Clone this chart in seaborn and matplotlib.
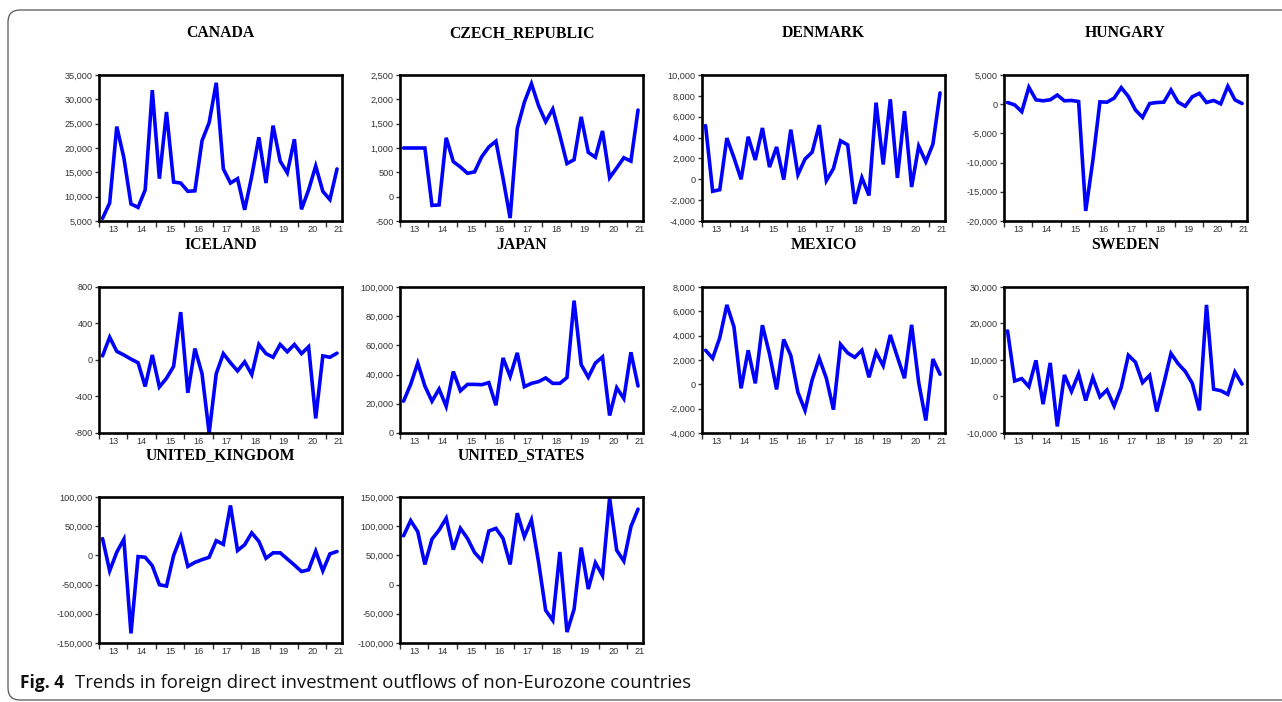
import numpy as np
import pandas as pd
import matplotlib
matplotlib.use("Agg")
import matplotlib.pyplot as plt
from matplotlib.patches import FancyBboxPatch
from matplotlib.transforms import IdentityTransform
from matplotlib.ticker import FixedLocator, FuncFormatter, NullFormatter
import seaborn as sns

# Quarterly FDI outflows, 2013Q1 - 2021Q2
start_year = 2013
n_quarters = 34

canada = [5550, 8700, 24400, 18000, 8500, 7800, 11400, 31900, 13700, 27400,
          13000, 12800, 11100, 11200, 21500, 25200, 33400, 15700, 12800, 13700,
          7300, 14200, 22200, 12800, 24600, 17300, 14900, 21800, 7400, 11400,
          16300, 11100, 9400, 15700]
czech_republic = [1000, 1000, 1000, 1000, -180, -170, 1210, 720, 610, 480,
                  510, 820, 1020, 1140, 380, -440, 1400, 1940, 2320, 1870,
                  1540, 1800, 1260, 680, 760, 1640, 910, 810, 1350, 390,
                  590, 800, 730, 1780]
denmark = [5150, -1150, -1000, 3950, 2070, 0, 4080, 1850, 4920, 1170,
           3100, -30, 4760, 450, 1940, 2600, 5200, -130, 1030, 3690,
           3300, -2360, 160, -1550, 7350, 1420, 7670, 130, 6540, -740,
           3170, 1680, 3370, 8280]
hungary = [290, -120, -1280, 2900, 750, 580, 750, 1570, 580, 640,
           460, -18270, -9690, 400, 350, 1040, 2840, 1330, -990, -2260,
           120, 290, 350, 2440, 350, -350, 1280, 1860, 290, 640,
           60, 3070, 750, 120]
iceland = [45, 250, 95, 55, 10, -30, -290, 55, -295, -200,
           -70, 525, -360, 125, -150, -800, -150, 70, -30, -120,
           -20, -160, 170, 70, 30, 170, 90, 170, 70, 145,
           -640, 45, 30, 75]
japan = [21800, 33300, 47900, 32200, 21800, 30100, 18300, 42100, 28900, 33300,
         33300, 33100, 34500, 19000, 51400, 38700, 54900, 31700, 34000, 35200,
         37700, 34000, 34000, 38000, 90700, 46800, 38200, 47900, 52100, 12000,
         31000, 23600, 55300, 32200]
mexico = [2800, 2140, 3830, 6530, 4720, -330, 2800, 80, 4860, 2500,
          -420, 3690, 2360, -670, -2140, 360, 2140, 500, -2080, 3280,
          2580, 2220, 2800, 580, 2640, 1530, 4060, 2250, 500, 4890,
          140, -2970, 2080, 830]
sweden = [17960, 4260, 4900, 2700, 9900, -2100, 9200, -8200, 5900, 1400,
          6200, -1100, 5200, -100, 1800, -2600, 2500, 11300, 9400, 3800,
          5800, -4100, 3600, 11800, 9000, 6900, 3600, -3800, 25100, 2000,
          1600, 600, 6700, 3400]
united_kingdom = [28700, -26400, 5500, 27600, -133600, -2000, -3200, -17700, -50200, -52500,
                  -300, 31600, -18900, -11900, -7300, -3200, 25200, 18900, 85600, 8400,
                  18300, 38600, 24100, -4900, 4400, 4400, -6100, -16500, -27600, -24700,
                  7300, -26400, 2600, 6700]
united_states = [83600, 109600, 90600, 34500, 77800, 93400, 113600, 59900, 96300, 79000,
                 54800, 41500, 91700, 96300, 79000, 34500, 122300, 81900, 110800, 38600,
                 -44000, -61300, 55900, -81300, -42200, 63400, -7600, 37400, 15500, 148300,
                 58800, 40300, 99200, 129200]

countries = ["CANADA", "CZECH_REPUBLIC", "DENMARK", "HUNGARY",
             "ICELAND", "JAPAN", "MEXICO", "SWEDEN",
             "UNITED_KINGDOM", "UNITED_STATES"]
series = [canada, czech_republic, denmark, hungary, iceland, japan,
          mexico, sweden, united_kingdom, united_states]

# y-axis ranges (min, max, step) per panel
y_ranges = [(5000, 35000, 5000), (-500, 2500, 500), (-4000, 10000, 2000),
            (-20000, 5000, 5000), (-800, 800, 400), (0, 100000, 20000),
            (-4000, 8000, 2000), (-10000, 30000, 10000),
            (-150000, 100000, 50000), (-100000, 150000, 50000)]

year_labels = ["13", "14", "15", "16", "17", "18", "19", "20", "21"]

t = start_year + (np.arange(n_quarters) + 0.5) / 4.0
df = pd.DataFrame({"t": t})
for name, vals in zip(countries, series):
    df[name] = vals

sns.set_style("white")
plt.rcParams["font.family"] = ["Liberation Sans", "DejaVu Sans"]
plt.rcParams["axes.unicode_minus"] = False

W, H = 1282, 702
fig = plt.figure(figsize=(W / 100, H / 100), dpi=100)
fig.patch.set_facecolor("white")

col_left = [99, 400, 702, 1004]
row_top = [75, 287, 497]
ax_w, ax_h = 243, 146

xmin, xmax = float(start_year), 2021.55
years = np.arange(start_year, 2022)
label_pos = [min(y + 0.5, xmax - 0.12) for y in years]

for i, (name, (ylo, yhi, ystep)) in enumerate(zip(countries, y_ranges)):
    r, c = divmod(i, 4)
    left = col_left[c]
    top = row_top[r]
    ax = fig.add_axes([left / W, 1 - (top + ax_h) / H, ax_w / W, ax_h / H])
    sns.lineplot(data=df, x="t", y=name, ax=ax, color="#0000FF",
                 linewidth=2.6, solid_joinstyle="miter")
    ax.set_xlim(xmin, xmax)
    ax.set_ylim(ylo, yhi)
    ax.set_xlabel("")
    ax.set_ylabel("")
    ax.yaxis.set_major_locator(FixedLocator(np.arange(ylo, yhi + ystep / 2, ystep)))
    ax.yaxis.set_major_formatter(FuncFormatter(lambda v, p: f"{v:,.0f}"))
    ax.xaxis.set_major_locator(FixedLocator(years))
    ax.xaxis.set_major_formatter(NullFormatter())
    ax.xaxis.set_minor_locator(FixedLocator(label_pos))
    ax.xaxis.set_minor_formatter(FuncFormatter(lambda v, p: year_labels[p]))
    ax.tick_params(axis="y", which="major", direction="out", length=3, width=1,
                   color="#333333", labelsize=6.6, labelcolor="#333333", pad=1.5, left=True)
    ax.tick_params(axis="x", which="major", direction="out", length=4, width=1,
                   color="#333333", bottom=True)
    ax.tick_params(axis="x", which="minor", length=0, labelsize=6.6,
                   labelcolor="#333333", pad=3)
    for sp in ax.spines.values():
        sp.set_visible(True)
        sp.set_color("black")
        sp.set_linewidth(1.9)
    ax.grid(False)
    fig.text((left + ax_w / 2) / W, 1 - (top - 42) / H, name,
             ha="center", va="center", fontsize=11.3, fontweight="bold",
             family="Liberation Serif", color="black")

# page frame with a rounded corner
frame = FancyBboxPatch((8, 2), 1310, 690,
                       boxstyle="round,pad=0,rounding_size=12",
                       transform=IdentityTransform(), fill=False,
                       edgecolor="#555555", linewidth=0.9)
fig.add_artist(frame)

fig.text(20 / W, 1 - 683 / H, "Fig. 4", ha="left", va="center",
         fontsize=12.5, fontweight="bold", family="Open Sans", color="#111111")
fig.text(75 / W, 1 - 683 / H,
         "Trends in foreign direct investment outflows of non-Eurozone countries",
         ha="left", va="center", fontsize=13.3, family="Open Sans", color="#111111")

fig.savefig("out.png", dpi=100, facecolor="white")
